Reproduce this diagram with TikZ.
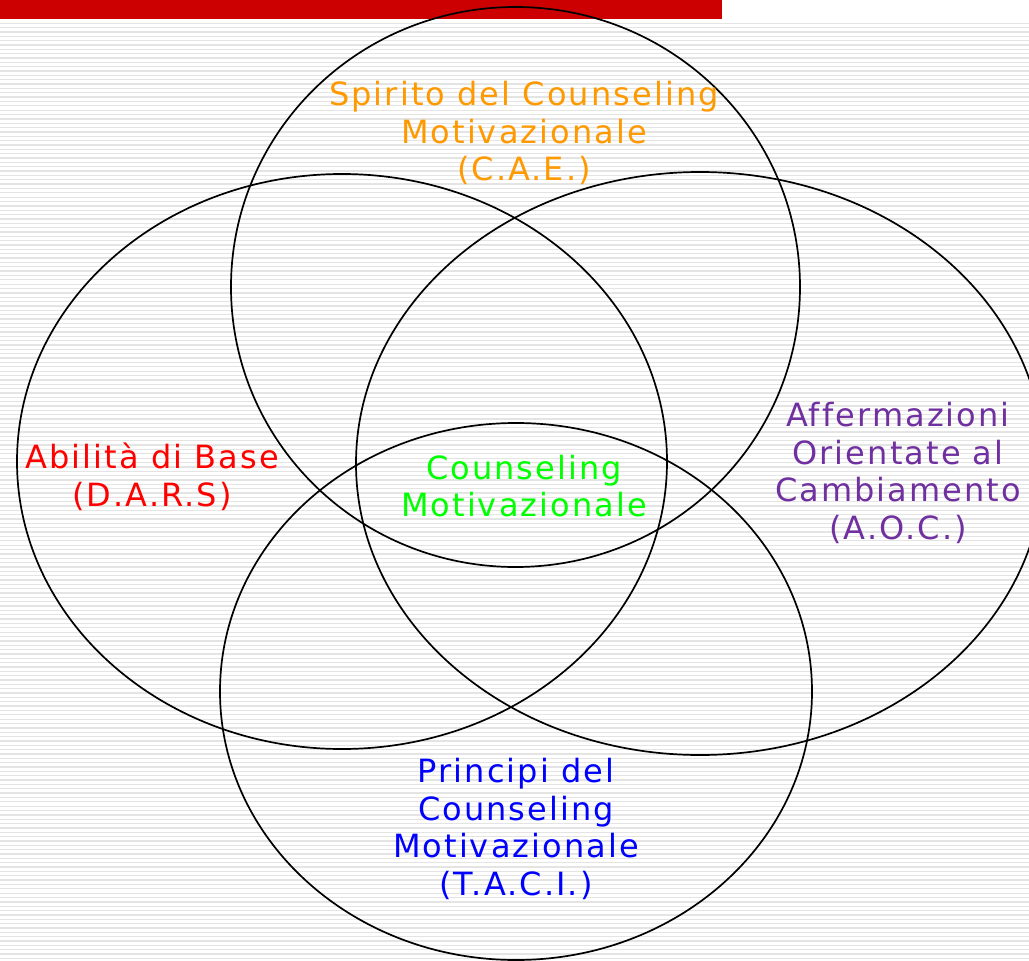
\documentclass[tikz,border=0pt]{standalone}
\usepackage{fontspec}
\setmainfont[LetterSpace=6.5,Ligatures={NoCommon}]{DejaVu Sans}
\definecolor{barred}{RGB}{204,0,0}
\definecolor{stripe}{RGB}{228,228,228}
\definecolor{corange}{RGB}{255,153,0}
\definecolor{cred}{RGB}{255,0,0}
\definecolor{cgreen}{RGB}{0,255,0}
\definecolor{cpurple}{RGB}{112,48,160}
\definecolor{cblue}{RGB}{0,0,255}
\begin{document}
\begin{tikzpicture}[x=1pt,y=-1pt,
  ring/.style={draw=black,line width=1.7pt},
  lbl/.style={inner sep=0pt,align=center,font=\fontsize{32}{37.5}\selectfont}]
\useasboundingbox (0,0) rectangle (1029,961);
\fill[white] (0,0) rectangle (1029,961);
% stripes
\foreach \k in {0,...,215}{
  \fill[stripe] (0,{22.5+4.35*\k}) rectangle (1029,{23.8+4.35*\k});
}
\fill[barred] (0,0) rectangle (722,19);
% circles
\begin{scope}
\clip (0,0) rectangle (1029,961);
\draw[ring] (515.5,287) ellipse [x radius=284.5, y radius=280];
\draw[ring] (342,461.5) ellipse [x radius=325, y radius=287.5];
\draw[ring] (700,463.5) ellipse [x radius=344, y radius=291.5];
\draw[ring] (516,691.5) ellipse [x radius=296, y radius=268.5];
\end{scope}
% labels
\node[lbl,text=corange] (spirito) at (524,133) {Spirito del Counseling\\Motivazionale\\(C.A.E.)};
\node[lbl,text=cred] (abilita) at (152,477) {Abilità di Base\\(D.A.R.S)};
\node[lbl,text=cgreen] (centro) at (524,486) {Counseling\\Motivazionale};
\node[lbl,text=cpurple] (aoc) at (898,473) {Affermazioni\\Orientate al\\Cambiamento\\(A.O.C.)};
\node[lbl,text=cblue] (taci) at (516,829) {Principi del\\Counseling\\Motivazionale\\(T.A.C.I.)};
\end{tikzpicture}
\end{document}
